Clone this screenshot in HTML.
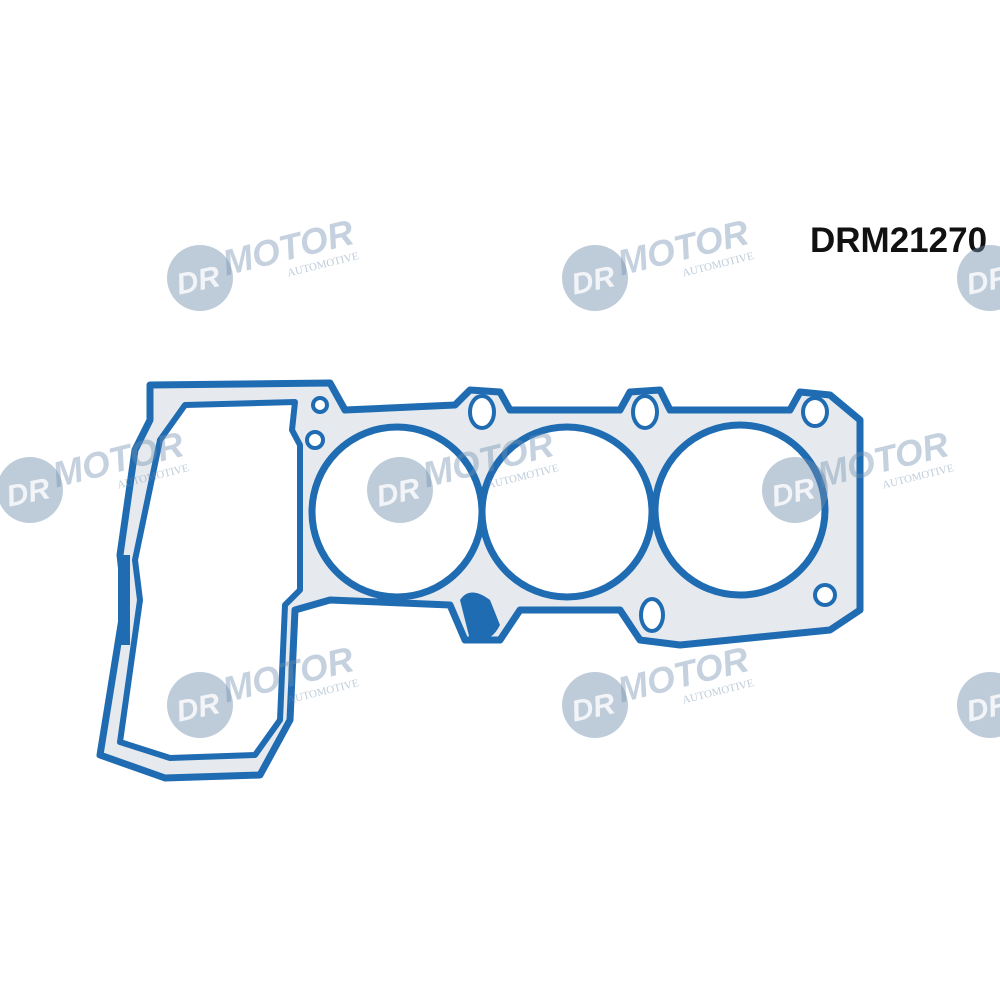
<!DOCTYPE html>
<html><head><meta charset="utf-8"><style>
html,body{margin:0;padding:0;background:#fff;}
svg{display:block}
</style></head><body>
<svg width="1000" height="1000" viewBox="0 0 1000 1000" xmlns="http://www.w3.org/2000/svg">
<defs>
<g id="wm">
  <circle cx="0" cy="0" r="33" fill="#6f8fae" opacity="0.45"/>
  <text x="-24" y="12" font-family="Liberation Sans, sans-serif" font-weight="bold" font-style="italic" font-size="30" fill="#fff" opacity="0.8" transform="rotate(-12)">DR</text>
  <text x="26" y="4" font-family="Liberation Sans, sans-serif" font-weight="bold" font-style="italic" font-size="36" fill="#6f8fae" opacity="0.4" transform="rotate(-14)">MOTOR</text>
  <text x="86" y="20" font-family="Liberation Serif, serif" font-size="11" fill="#6f8fae" opacity="0.45" transform="rotate(-14)">AUTOMOTIVE</text>
</g>
</defs>
<path d="M150,385 L330,383 L345,410 L455,405 L470,390 L500,392 L510,410 L620,410 L630,392 L660,390 L670,410 L790,410 L800,392 L830,395 L860,420 L860,610 L830,630 L680,645 L640,640 L620,610 L520,610 L500,640 L465,640 L450,605 L330,600 L295,610 L290,720 L260,775 L165,778 L100,755 L125,600 L120,555 L135,450 L150,420 Z" fill="#e6eaee" stroke="#1f6cb3" stroke-width="7" stroke-linejoin="round"/>
<path d="M185,405 L295,402 L292,430 L300,445 L300,590 L285,605 L280,720 L255,755 L170,758 L120,742 L140,600 L135,560 L160,440 Z" fill="#fff" stroke="#1f6cb3" stroke-width="6" stroke-linejoin="round"/>
<g fill="#fff" stroke="#1f6cb3" stroke-width="7">
<circle cx="397" cy="512" r="85"/>
<circle cx="567" cy="512" r="85"/>
<circle cx="740" cy="510" r="85"/>
</g>
<g fill="#fff" stroke="#1f6cb3" stroke-width="4">
<ellipse cx="482" cy="412" rx="12" ry="16"/>
<ellipse cx="645" cy="412" rx="12" ry="16"/>
<ellipse cx="815" cy="412" rx="12" ry="14"/>
<ellipse cx="652" cy="615" rx="11" ry="16"/>
<circle cx="825" cy="595" r="10"/>
<circle cx="315" cy="440" r="8"/>
<circle cx="320" cy="405" r="7"/>
</g>
<path d="M460,600 Q470,585 490,600 L500,625 Q490,645 470,640 Z" fill="#1f6cb3"/>
<rect x="118" y="555" width="12" height="90" fill="#1f6cb3"/>
<text x="810" y="252" font-family="Liberation Sans, sans-serif" font-weight="bold" font-size="35" fill="#111">DRM21270</text>
<use href="#wm" x="200" y="278"/>
<use href="#wm" x="595" y="278"/>
<use href="#wm" x="990" y="278"/>
<use href="#wm" x="30" y="490"/>
<use href="#wm" x="400" y="490"/>
<use href="#wm" x="795" y="490"/>
<use href="#wm" x="200" y="705"/>
<use href="#wm" x="595" y="705"/>
<use href="#wm" x="990" y="705"/>
</svg>
</body></html>
